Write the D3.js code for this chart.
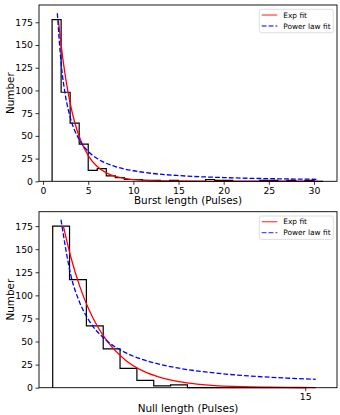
<!DOCTYPE html>
<html>
<head>
<meta charset="utf-8">
<script src="https://cdn.jsdelivr.net/npm/d3@7"></script>
<style>
  html, body { margin: 0; padding: 0; background: #fff; }
  svg { display: block; font-family: "DejaVu Sans", sans-serif; }
</style>
</head>
<body>
<svg id="chart" width="340" height="415"></svg>
<script>
// ---------- DATA ----------
// Burst length histogram (step), unit-width bins 1..31
const burstEdges = [1,2,3,4,5,6,7,8,9,10,11,12,13,14,15,16,17,18,19,20,21,22,23,24,25,26,27,28,29,30,31];
const burstCounts = [178,98,64,41,12,14,6,4,2,2,1,1,0,1,0,0,0,2,1,1,0,0,0,1,1,0,1,0,1,0];
// Burst fits
const burstExpX = [1.7,2.0,2.5,3,3.5,4,5,6,7,8,10,12,15,20,25,30.5];
const burstExpY = [177,150,113.5,86,65,49.3,28.3,16.2,9.3,5.3,1.8,0.6,0.1,0,0,0];
const burstPowX = [1.58,2,2.5,3,4,5,6,8,10,12,15,20,25,30.5];
const burstPowY = [185,130,93,70.7,45.9,32.9,25,16.2,11.6,8.8,6.3,4.1,2.9,2.2];
const burstXTicks = [0,5,10,15,20,25,30];

// Null length histogram (step), 15 bins over 1..15
const nullEdges = [1,1.933,2.867,3.8,4.733,5.667,6.6,7.533,8.467,9.4,10.333,11.267,12.2,13.133,14.067,15];
const nullCounts = [175,117,67,42,21,8,2,3,0,0,0,0,0,0,0];
const nullExpX = [1.59,2,2.5,3,3.5,4,5,6,7,8,9,10,11,12,13,14,15.58];
const nullExpY = [175,141.8,109.7,84.9,65.7,50.9,30.4,18.2,10.9,6.5,3.9,2.3,1.4,0.84,0.5,0.3,0.14];
const nullPowX = [1.46,2,2.5,3,4,5,6,7,8,10,12,14,15.58];
const nullPowY = [181.9,122.1,92.1,73.1,50.8,38.3,30.4,25,21.1,15.9,12.6,10.4,9.1];
const nullXTicks = [15];

const yTicks = [0,25,50,75,100,125,150,175];
const legendLabels = ["Exp fit", "Power law fit"];

// ---------- DRAW ----------
const svg = d3.select("#chart");
const RED = "#ff0000", BLUE = "#0000ff";

function panel(cfg) {
  const x = d3.scaleLinear().domain(cfg.xDomain).range([39, 337]);
  const y = d3.scaleLinear().domain(cfg.yDomain).range([cfg.bottom, cfg.top]);
  const g = svg.append("g");

  // histogram step outline
  const pts = [[cfg.edges[0], 0]];
  cfg.counts.forEach((c, i) => { pts.push([cfg.edges[i], c]); pts.push([cfg.edges[i+1], c]); });
  pts.push([cfg.edges[cfg.edges.length-1], 0]);
  const lineFn = d3.line().x(d => x(d[0])).y(d => y(d[1]));
  g.append("path").attr("d", lineFn(pts))
    .attr("fill", "none").attr("stroke", "#000").attr("stroke-width", 1.2)
    .attr("stroke-linejoin", "miter");

  const curve = d3.line().x(d => x(d[0])).y(d => y(d[1])).curve(d3.curveMonotoneX);
  g.append("path").attr("d", curve(cfg.expX.map((v, i) => [v, cfg.expY[i]])))
    .attr("fill", "none").attr("stroke", RED).attr("stroke-width", 1.3);
  g.append("path").attr("d", curve(cfg.powX.map((v, i) => [v, cfg.powY[i]])))
    .attr("fill", "none").attr("stroke", BLUE).attr("stroke-width", 1.3)
    .attr("stroke-dasharray", "4.8,2.1");

  // frame
  g.append("rect").attr("x", 39).attr("y", cfg.top).attr("width", 298).attr("height", cfg.bottom - cfg.top)
    .attr("fill", "none").attr("stroke", "#000").attr("stroke-width", 0.9);

  // y axis
  const yAxis = d3.axisLeft(y).tickValues(yTicks).tickSize(3.5).tickPadding(2.5);
  const ya = g.append("g").attr("transform", "translate(39,0)").call(yAxis);
  ya.select(".domain").remove();
  ya.selectAll("text").attr("font-size", 9.3).attr("font-family", "DejaVu Sans").attr("fill", "#000");
  ya.selectAll("line").attr("stroke", "#000").attr("stroke-width", 0.8);

  // x axis
  const xAxis = d3.axisBottom(x).tickValues(cfg.xTicks).tickSize(3.5).tickPadding(2.2);
  const xa = g.append("g").attr("transform", `translate(0,${cfg.bottom})`).call(xAxis);
  xa.select(".domain").remove();
  xa.selectAll("text").attr("font-size", 9.3).attr("font-family", "DejaVu Sans").attr("fill", "#000");
  xa.selectAll("line").attr("stroke", "#000").attr("stroke-width", 0.8);

  // labels
  g.append("text").attr("x", 188).attr("y", cfg.xLabelY).attr("text-anchor", "middle")
    .attr("font-size", 10.4).text(cfg.xLabel);
  g.append("text").attr("transform", `translate(14,${(cfg.top + cfg.bottom) / 2}) rotate(-90)`)
    .attr("text-anchor", "middle").attr("font-size", 10.4).text("Number");

  // legend
  const lg = g.append("g").attr("transform", `translate(259.3,${cfg.top + 4.3})`);
  lg.append("rect").attr("width", 74).attr("height", 23.4).attr("rx", 2)
    .attr("fill", "#fff").attr("fill-opacity", 0.8).attr("stroke", "#d6d6d6").attr("stroke-width", 0.8);
  legendLabels.forEach((lab, i) => {
    const yy = 5.7 + i * 11;
    lg.append("line").attr("x1", 2.4).attr("x2", 18).attr("y1", yy).attr("y2", yy)
      .attr("stroke", i === 0 ? RED : BLUE).attr("stroke-width", 1.3).attr("stroke-opacity", 0.7)
      .attr("stroke-dasharray", i === 0 ? null : "4.8,2.1");
    lg.append("text").attr("x", 24).attr("y", yy + 2.7).attr("font-size", 7.4).attr("fill", "#000").text(lab);
  });
}

panel({
  xDomain: [-0.45, 32.55], yDomain: [0, 194], top: 5, bottom: 181.3,
  edges: burstEdges, counts: burstCounts,
  expX: burstExpX, expY: burstExpY, powX: burstPowX, powY: burstPowY,
  xTicks: burstXTicks, xLabel: "Burst length (Pulses)", xLabelY: 204.3
});
panel({
  xDomain: [0.24, 16.76], yDomain: [0, 190.6], top: 211.7, bottom: 387.7,
  edges: nullEdges, counts: nullCounts,
  expX: nullExpX, expY: nullExpY, powX: nullPowX, powY: nullPowY,
  xTicks: nullXTicks, xLabel: "Null length (Pulses)", xLabelY: 411.6
});
</script>
</body>
</html>
